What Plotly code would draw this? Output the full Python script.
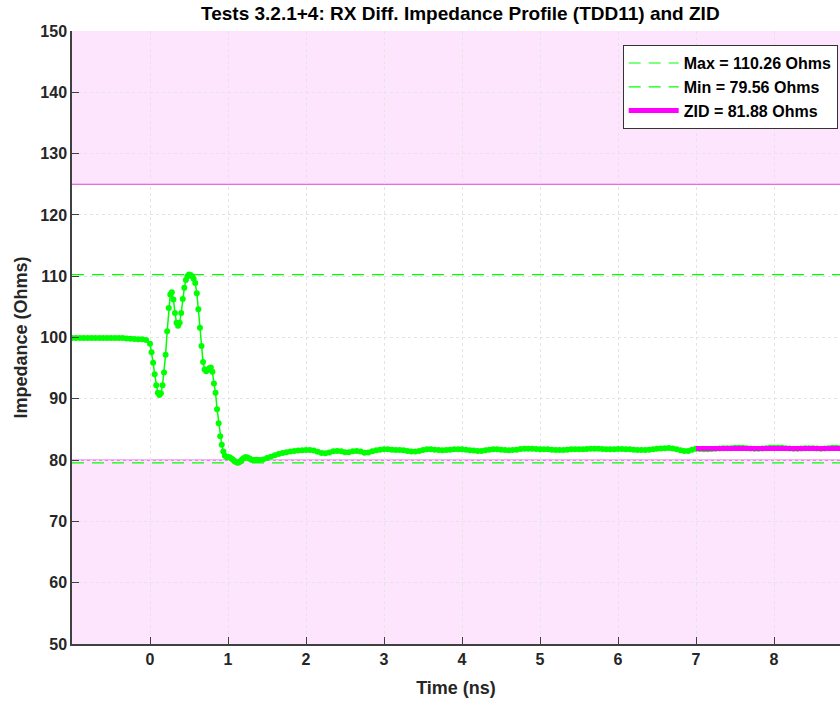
import numpy as np
import plotly.graph_objects as go

# ---- data ----
# segment A: -1.00 .. -0.05 ns, step 0.05
t_a = np.round(np.arange(-1.00, -0.05 + 1e-9, 0.05), 2)
z_a = [99.9, 99.9, 99.9, 99.9, 99.9, 99.9, 99.9, 99.9, 99.9, 99.9,
       99.9, 99.9, 99.9, 99.9, 99.85, 99.8, 99.75, 99.7, 99.7, 99.6]
# segment B: 0.00 .. 1.40 ns, step 0.02
t_b = np.round(np.arange(0.00, 1.40 + 1e-9, 0.02), 2)
z_b = [99.0, 97.6, 95.9, 94.0, 92.2, 91.0, 90.6, 90.9, 92.2, 94.3,
       97.2, 101.0, 104.8, 107.0, 107.4, 106.2, 104.0, 102.4, 101.9, 102.4,
       104.0, 106.3, 108.1, 109.4, 110.0, 110.26, 110.2, 110.0, 109.6, 108.9,
       107.2, 104.6, 101.6, 98.6, 96.0, 94.8, 94.5, 94.7, 95.0, 95.1,
       94.4, 92.5, 91.0, 88.3, 86.0, 83.9, 82.5, 81.4, 80.7, 80.5,
       80.5, 80.45, 80.3, 80.1, 79.9, 79.7, 79.56, 79.6, 79.8, 80.1,
       80.3, 80.45, 80.45, 80.35, 80.2, 80.05, 80.0, 80.0, 80.05, 80.0,
       80.0]
# segment C: 1.45 .. 9.00 ns, step 0.05
t_c = np.round(np.arange(1.45, 9.00 + 1e-9, 0.05), 2)
z_c = [80.1, 80.35, 80.55, 80.8, 81.0, 81.15, 81.3, 81.4, 81.5, 81.55,
       81.6, 81.65, 81.65, 81.55, 81.35, 81.15, 81.1, 81.25, 81.45, 81.5,
       81.45, 81.3, 81.3, 81.45, 81.5, 81.4, 81.2, 81.25, 81.45, 81.6,
       81.7, 81.75, 81.75, 81.7, 81.65, 81.65, 81.6, 81.5, 81.4, 81.4,
       81.5, 81.65, 81.75, 81.75, 81.7, 81.65, 81.6, 81.65, 81.7, 81.75,
       81.75, 81.75, 81.7, 81.6, 81.55, 81.5, 81.5, 81.6, 81.7, 81.75,
       81.75, 81.7, 81.65, 81.6, 81.65, 81.7, 81.8, 81.85, 81.85, 81.85,
       81.8, 81.75, 81.75, 81.75, 81.7, 81.65, 81.65, 81.65, 81.7, 81.75,
       81.75, 81.75, 81.75, 81.8, 81.85, 81.85, 81.85, 81.8, 81.75, 81.75,
       81.75, 81.8, 81.8, 81.75, 81.75, 81.7, 81.65, 81.65, 81.65, 81.7,
       81.75, 81.85, 81.9, 81.95, 81.97, 81.9, 81.75, 81.6, 81.5, 81.5,
       81.7, 81.85, 81.8, 81.75, 81.75, 81.8, 81.85, 81.9, 81.95, 81.95,
       81.95, 82.0, 82.0, 82.0, 81.95, 81.9, 81.85, 81.85, 81.9, 81.95,
       82.0, 82.0, 82.0, 82.0, 81.95, 81.9, 81.85, 81.85, 81.9, 81.95,
       81.95, 81.95, 81.9, 81.85, 81.9, 81.95, 82.0, 82.0, 81.95, 81.9,
       81.9, 81.9]

time_ns = np.concatenate([t_a, t_b, t_c])
impedance = np.array(z_a + z_b + z_c)

z_max = 110.26
z_min = 79.56
zid = 81.88
zid_start, zid_end = 7.0, 9.0
limit_upper = 125
limit_lower = 80
x_range = [-1.0, 8.846]
y_range = [50, 150]
x_ticks = list(range(0, 9))
y_ticks = list(range(50, 151, 10))

legend_labels = ["Max = 110.26 Ohms", "Min = 79.56 Ohms", "ZID = 81.88 Ohms"]
title = "Tests 3.2.1+4: RX Diff. Impedance Profile (TDD11) and ZID"

FONT = "Liberation Sans"
TXT = "#262626"
GREEN = "#00ff00"
MAGENTA = "#ff00ff"
PINK = "#fde6fd"

fig = go.Figure()

# limit (fail) regions
for y0, y1 in [(limit_upper, y_range[1]), (y_range[0], limit_lower)]:
    fig.add_shape(type="rect", xref="paper", yref="y", x0=0, x1=1, y0=y0, y1=y1,
                  fillcolor=PINK, line=dict(width=0), layer="below")
for yl in [limit_upper, limit_lower]:
    fig.add_shape(type="line", xref="paper", yref="y", x0=0, x1=1, y0=yl, y1=yl,
                  line=dict(color="#e23ce2", width=1), layer="below")

xs_full = [x_range[0], 9.0]
fig.add_trace(go.Scatter(x=xs_full, y=[z_max, z_max], mode="lines", name=legend_labels[0],
                         line=dict(color=GREEN, width=1.2, dash="12px,8px")))
fig.add_trace(go.Scatter(x=xs_full, y=[z_min, z_min], mode="lines", name=legend_labels[1],
                         line=dict(color=GREEN, width=1.2, dash="12px,8px")))
fig.add_trace(go.Scatter(x=time_ns, y=impedance, mode="lines+markers", showlegend=False,
                         line=dict(color=GREEN, width=1.5),
                         marker=dict(color=GREEN, size=6)))
fig.add_trace(go.Scatter(x=[zid_start, zid_end], y=[zid, zid], mode="lines", name=legend_labels[2],
                         line=dict(color=MAGENTA, width=5)))

axis_common = dict(
    showline=True, linecolor="#404040", linewidth=1.5,
    ticks="inside", ticklen=7, tickcolor="#404040", tickwidth=1,
    showgrid=True, gridcolor="#e4e4e4", griddash="dot", gridwidth=1,
    zeroline=False,
    tickfont=dict(family=FONT, size=16, color=TXT, weight="bold"),
)

fig.update_xaxes(range=x_range, tickvals=x_ticks, mirror=False,
                 title=dict(text="Time (ns)", font=dict(family=FONT, size=18, color=TXT, weight="bold"),
                            standoff=14),
                 **axis_common)
fig.update_yaxes(range=y_range, tickvals=y_ticks, mirror=False,
                 title=dict(text="Impedance (Ohms)", font=dict(family=FONT, size=18, color=TXT, weight="bold"),
                            standoff=8),
                 **axis_common)

fig.update_layout(
    width=840, height=706,
    margin=dict(l=72, r=0, t=31, b=62),
    paper_bgcolor="white", plot_bgcolor="white",
    title=dict(text=title, x=0.548, xanchor="center", y=0.981, yanchor="middle",
               font=dict(family=FONT, size=19, color="#000000", weight="bold")),
    legend=dict(x=0.997, xanchor="right", y=0.977, yanchor="top",
                bgcolor="white", bordercolor="#333333", borderwidth=1,
                font=dict(family=FONT, size=16, color="#000000", weight="bold"),
                itemwidth=50, tracegroupgap=0),
    showlegend=True,
)

fig.write_html("out.html")
